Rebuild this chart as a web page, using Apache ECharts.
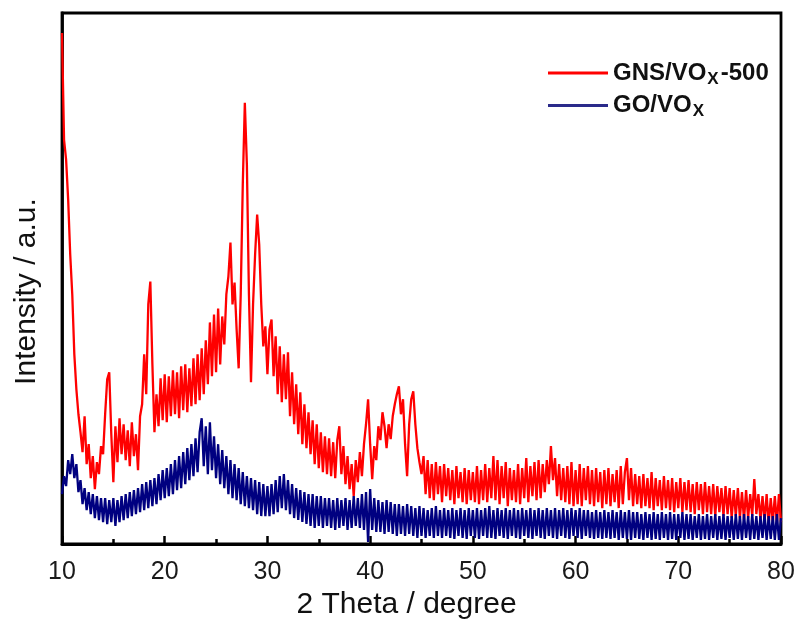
<!DOCTYPE html>
<html>
<head>
<meta charset="utf-8">
<script src="https://cdn.jsdelivr.net/npm/echarts@6/dist/echarts.min.js"></script>
<style>html,body{margin:0;padding:0;background:#fff;}#c{width:801px;height:625px;}</style>
</head>
<body>
<div id="c"></div>
<script>
// 2-theta sampling of the scans (degrees)
const twoThetaStart = 10;
const twoThetaStep = 0.2;
const xTicks = [10, 20, 30, 40, 50, 60, 70, 80];
const seriesNames = ['GNS/VOX-500', 'GO/VOX'];

// GNS/VOx-500 intensity (a.u.), one value per 0.2 degree from 10 to 80
const gnsVox500 = [
  512,405,385,345,290, 250,190,155,130,112, 92,128,80,100,66, 88,55,82,70,98,
  90,130,165,172,110, 62,118,82,126,90, 120,84,114,78,122, 88,110,74,128,140,
  190,150,240,263,180, 112,150,118,166,124, 170,122,168,128,174, 130,172,126,178,134,
  180,132,176,138,186, 140,190,144,196,150, 204,160,222,168,230, 172,236,180,228,200,
  250,268,302,240,262, 215,176,250,360,442, 380,250,162,240,290, 330,300,240,198,218,
  170,215,225,168,208, 150,198,142,190,145, 192,128,172,120,160, 110,152,100,140,96,
  132,90,124,80,120, 76,112,72,108,70, 106,68,102,66,104, 118,70,98,60,88,
  55,80,48,84,62, 92,68,100,120,145, 100,65,98,84,118, 104,132,118,96,120,
  105,128,140,150,158, 130,145,100,68,120, 145,153,120,96,82, 70,88,50,84,46,
  80,44,82,50,78, 42,80,48,76,44, 74,40,78,46,72, 42,76,40,74,44,
  72,42,78,40,74, 44,80,42,76,46, 88,44,84,40,78, 46,82,38,76,44,
  74,42,80,40,76, 46,86,42,78,48, 82,44,84,46,80, 52,84,60,98,64,
  86,48,80,44,76, 42,78,40,82,38, 74,40,80,38,76, 44,78,40,74,38,
  76,42,72,36,74, 40,76,38,70,42, 74,36,78,40,72, 86,44,76,38,70,
  40,68,36,70,38, 66,36,72,34,66, 38,64,34,68,36, 64,34,66,32,62,
  36,66,32,62,34, 64,32,60,30,62, 34,60,30,62,32, 58,30,60,28,58,
  32,56,28,58,30, 56,26,54,28,56, 26,52,24,54,26, 50,28,65,30,50,
  24,48,22,50,20, 46,22,48,20,50, 22
];

// GO/VOx intensity (a.u.), one value per 0.2 degree from 10 to 80
const goVox = [
  50,68,58,84,70, 90,66,80,52,64, 40,56,34,52,30, 50,26,48,24,46,
  22,46,20,44,22, 46,18,44,22,48, 24,50,26,52,28, 54,30,56,32,60,
  34,62,36,64,38, 66,40,70,44,74, 46,76,48,80,50, 84,54,88,56,92,
  60,96,64,100,68, 106,72,112,126,78, 118,70,122,74,108, 66,100,60,94,56,
  88,50,84,46,80, 44,76,40,72,38, 68,36,66,34,64, 30,62,28,60,28,
  58,28,60,30,64, 32,68,36,70,34, 64,30,60,26,56, 24,54,22,52,20,
  50,18,50,16,48, 18,48,16,46,18, 46,16,44,14,46, 16,44,18,46,14,
  44,16,48,18,46, 16,50,14,52,2, 55,14,46,12,44, 12,42,10,44,12,
  42,10,40,8,40, 10,38,8,40,10, 38,8,36,6,38, 8,36,6,34,8,
  36,6,38,8,34, 6,36,8,34,6, 36,5,34,8,36, 6,34,5,36,8,
  34,6,36,5,34, 8,36,6,38,6, 34,5,36,8,34, 6,36,5,34,8,
  36,6,34,5,36, 8,34,6,36,5, 34,8,36,6,34, 5,36,8,34,6,
  36,5,34,8,36, 6,34,5,36,8, 34,6,36,5,34, 8,34,6,32,5,
  34,6,32,5,34, 6,32,5,34,6, 32,4,34,6,32, 5,34,4,32,6,
  32,5,30,4,32, 6,30,4,32,5, 30,4,32,6,30, 4,32,5,30,4,
  30,6,32,4,30, 5,30,4,28,6, 30,4,28,5,30, 4,28,6,30,4,
  28,5,30,4,28, 6,28,4,30,5, 28,4,30,6,28, 4,30,5,28,4,
  28,6,30,4,28, 5,28,4,30,4, 26
];

function toPairs(arr) {
  return arr.map((v, i) => [+(twoThetaStart + i * twoThetaStep).toFixed(2), v]);
}

const chart = echarts.init(document.getElementById('c'), null, { renderer: 'canvas' });
const legendRich = {
  a: { fontFamily: 'Liberation Sans, Arial, sans-serif', fontWeight: 'bold', fontSize: 24, color: '#111' },
  s: { fontFamily: 'Liberation Sans, Arial, sans-serif', fontWeight: 'bold', fontSize: 17, color: '#111', padding: [12, 2, 0, 1] }
};
chart.setOption({
  animation: false,
  backgroundColor: '#fff',
  grid: { left: 62, right: 20, top: 13, bottom: 80, show: true, borderColor: '#000', borderWidth: 2.8, backgroundColor: 'transparent' },
  legend: {
    orient: 'vertical',
    left: 543,
    top: 56,
    itemWidth: 60,
    itemHeight: 3,
    itemGap: 6,
    icon: 'rect',
    data: seriesNames,
    formatter: function (name) {
      if (name === seriesNames[0]) return '{a|GNS/VO}{s|X}{a|-500}';
      return '{a|GO/VO}{s|X}';
    },
    textStyle: { rich: legendRich }
  },
  xAxis: {
    type: 'value',
    min: 10,
    max: 80,
    interval: 10,
    name: '2 Theta / degree',
    nameLocation: 'middle',
    nameGap: 46,
    nameTextStyle: { fontFamily: 'Liberation Sans, Arial, sans-serif', fontSize: 30, color: '#111', padding: [0, 30, 0, 0] },
    axisLine: { show: true, lineStyle: { color: '#000', width: 2.8 } },
    axisTick: { show: true, inside: true, length: 8, lineStyle: { color: '#000', width: 2.5 } },
    minorTick: { show: true, splitNumber: 2, length: 5, lineStyle: { color: '#000', width: 2.5 } },
    axisLabel: {
      margin: 16,
      fontFamily: 'Liberation Sans, Arial, sans-serif', fontSize: 25, color: '#1a1a1a',
      formatter: function (v) { return xTicks.indexOf(v) >= 0 ? String(v) : ''; }
    },
    splitLine: { show: false }
  },
  yAxis: {
    type: 'value',
    min: 0,
    max: 532,
    name: 'Intensity / a.u.',
    nameLocation: 'middle',
    nameGap: 20,
    nameTextStyle: { fontFamily: 'Liberation Sans, Arial, sans-serif', fontSize: 30, color: '#111', padding: [0, 26, 0, 0] },
    axisLine: { show: true, lineStyle: { color: '#000', width: 2.8 } },
    axisTick: { show: false },
    axisLabel: { show: false },
    splitLine: { show: false }
  },
  series: [
    {
      name: seriesNames[0], type: 'line', data: toPairs(gnsVox500), showSymbol: false, symbol: 'none',
      lineStyle: { color: '#ff0000', width: 2.3 }, itemStyle: { color: '#ff0000' }, z: 2
    },
    {
      name: seriesNames[1], type: 'line', data: toPairs(goVox), showSymbol: false, symbol: 'none',
      lineStyle: { color: '#000080', width: 2.3 }, itemStyle: { color: '#2a2a8a' }, z: 3
    }
  ]
});
</script>
</body>
</html>
